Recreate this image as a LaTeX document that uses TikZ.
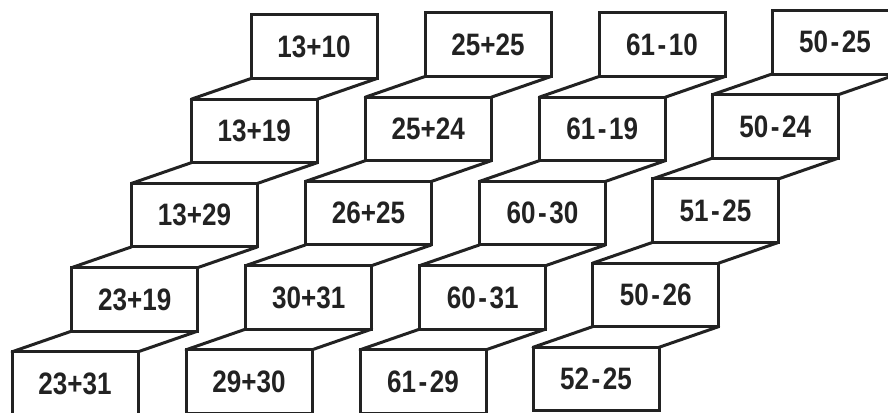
\documentclass[tikz,border=0pt]{standalone}
\usepackage{fontspec}
\newfontfamily\stepfont{Liberation Sans}[FakeStretch=0.84]
\definecolor{ink}{HTML}{222222}
\newcommand{\mn}{\kern2.5pt-\kern2.5pt}
\tikzset{
  stepbox/.style={draw=ink, line width=3pt, fill=white, rectangle, outer sep=0pt,
    minimum width=126pt, minimum height=63.5pt, inner sep=0pt,
    font=\stepfont\bfseries\fontsize{31}{31}\selectfont, text=ink},
  tread/.style={draw=ink, line width=3pt, line cap=round}
}
\begin{document}
\begin{tikzpicture}[x=1pt,y=-1pt]
\useasboundingbox (0,0) rectangle (888,412);
\foreach \c/\L/\T/\labels in {
  1/251/15/{13+10,13+19,13+29,23+19,23+31},
  2/425/13/{25+25,25+24,26+25,30+31,29+30},
  3/599/13/{61\mn10,61\mn19,60\mn30,60\mn31,61\mn29},
  4/772/10.5/{50\mn25,50\mn24,51\mn25,50\mn26,52\mn25}}{
  \foreach \lab [count=\k from 0] in \labels {
    \node[stepbox, anchor=north west] (b\c-\k) at ({\L-59.75*\k},{\T+84.2*\k}) {\raisebox{-2pt}{\lab}};
  }
  \foreach \k [evaluate=\k as \j using int(\k+1)] in {0,...,3} {
    \draw[tread] (b\c-\k.south west) -- (b\c-\j.north west);
    \draw[tread] (b\c-\k.south east) -- (b\c-\j.north east);
  }
}
\end{tikzpicture}
\end{document}
